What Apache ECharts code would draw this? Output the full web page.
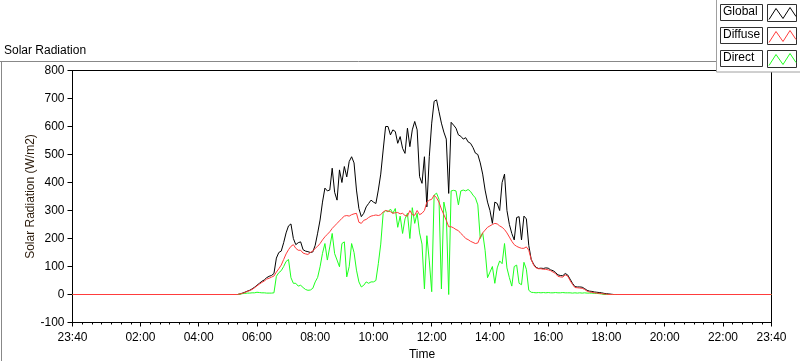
<!DOCTYPE html>
<html>
<head>
<meta charset="utf-8">
<script src="https://cdn.jsdelivr.net/npm/echarts@6/dist/echarts.min.js"></script>
<style>
  html, body { margin: 0; padding: 0; background: #fff; }
  #main { width: 800px; height: 361px; }
</style>
</head>
<body>
<div id="main"></div>
<script>
// time axis: minutes since 23:40 of the previous day, samples every 5 min from 05:20
var startMinute = 340;
var stepMinutes = 5;

var seriesNames = ['Global', 'Diffuse', 'Direct'];
var seriesColors = ['#000000', '#ff3c3c', '#1eff1e'];

var tickLabels = ['23:40', '02:00', '04:00', '06:00', '08:00', '10:00', '12:00',
    '14:00', '16:00', '18:00', '20:00', '22:00', '23:40'];
var tickMinutes = [0, 140, 260, 380, 500, 620, 740, 860, 980, 1100, 1220, 1340, 1440];

var globalVals = [
    0, 2, 5, 8, 12, 15, 20, 26, 33, 40, 47, 52, 60, 65, 68, 75,
    130, 150, 155, 185, 220, 245, 252, 200, 178, 185, 188, 160, 155, 153, 150, 152,
    176, 219, 266, 330, 380, 370, 373, 451, 365, 337, 445, 400, 457, 420, 475, 492,
    470, 373, 307, 278, 290, 313, 325, 337, 330, 325, 373, 430, 516, 600, 600, 570,
    588, 582, 540, 564, 522, 504, 594, 528, 588, 618, 588, 421, 397, 492, 313, 492,
    612, 690, 695, 653, 612, 580, 555, 361, 615, 605, 594, 570, 565, 555, 560, 545,
    540, 525, 505, 500, 470, 430, 373, 330, 300, 254, 330, 325, 300, 400, 430, 300,
    250, 218, 195, 275, 278, 195, 280, 270, 175, 125, 108, 97, 93, 94, 93, 95,
    94, 88, 85, 79, 70, 68, 67, 75, 70, 55, 40, 28, 27, 27, 26, 21,
    15, 12, 11, 9, 8, 7, 6, 4, 3, 2, 1, 0, 0
];

var diffuseVals = [
    0, 2, 4, 7, 11, 14, 18, 24, 31, 37, 43, 48, 55, 58, 62, 66,
    80, 92, 105, 125, 145, 160, 172, 178, 165, 158, 158, 148, 145, 143, 150, 155,
    165, 172, 182, 195, 206, 215, 224, 236, 245, 254, 263, 272, 280, 282, 280, 285,
    288, 290, 258, 254, 265, 268, 275, 280, 282, 284, 282, 285, 295, 300, 298, 296,
    290, 292, 293, 288, 290, 282, 280, 300, 285, 283, 300, 285, 290, 300, 330, 337,
    340, 355, 345, 330, 305, 285, 265, 242, 242, 238, 232, 228, 218, 210, 200, 196,
    190, 186, 182, 184, 205, 220, 230, 240, 245, 250, 254, 252, 245, 240, 232, 220,
    205, 190, 178, 172, 168, 165, 165, 170, 158, 125, 105, 95, 92, 92, 90, 90,
    88, 85, 80, 75, 65, 63, 62, 70, 66, 50, 36, 25, 24, 23, 22, 18,
    12, 9, 8, 6, 5, 4, 3, 2, 1, 0, 0, 0, 0
];

var directVals = [
    0, 1, 3, 4, 5, 5, 6, 6, 8, 7, 6, 6, 5, 5, 5, 6,
    65, 78, 85, 100, 118, 125, 60, 40, 40, 30, 33, 25, 18, 15, 16, 22,
    45, 61, 99, 147, 182, 123, 170, 218, 146, 123, 99, 182, 188, 63, 100, 182,
    150, 87, 45, 27, 33, 45, 40, 45, 45, 50, 110, 180, 290, 300, 295, 305,
    290, 307, 240, 280, 218, 270, 290, 200, 310, 254, 290, 220, 180, 20, 210, 120,
    10, 355, 362, 340, 20, 330, 290, 0, 370, 372, 370, 320, 370, 373, 370, 375,
    368, 355, 345, 320, 200, 220, 158, 60, 80, 100, 40, 95, 120, 110, 182, 95,
    60, 30, 100, 105, 40, 35, 115, 90, 15, 8, 7, 6, 7, 6, 7, 6,
    7, 6, 6, 7, 6, 6, 7, 6, 6, 6, 5, 6, 5, 6, 5, 6,
    5, 5, 5, 4, 4, 3, 2, 0, 0, 0, 0, 0, 0
];

function toPoints(vals) {
    var pts = [[0, 0]];
    vals.forEach(function (v, i) { pts.push([startMinute + i * stepMinutes, v]); });
    pts.push([1440, 0]);
    return pts;
}

function labelFor(v) {
    var idx = tickMinutes.indexOf(v);
    return idx >= 0 ? tickLabels[idx] : '';
}

var chartDom = document.getElementById('main');
var myChart = echarts.init(chartDom);
var font = 'Liberation Sans';

// legend boxes, drawn LabVIEW style
var legendGraphics = [{
    type: 'rect',
    shape: { x: 716.5, y: -2, width: 90, height: 74 },
    style: { fill: '#fff', stroke: '#a0a0a0', lineWidth: 1 },
    z: 10
}];
seriesNames.forEach(function (name, k) {
    var y0 = 4.5 + k * 23;
    legendGraphics.push({
        type: 'rect',
        shape: { x: 720.5, y: y0, width: 42, height: 16 },
        style: { fill: '#fff', stroke: '#303030', lineWidth: 1 },
        z: 11
    });
    legendGraphics.push({
        type: 'text',
        left: 723, top: y0 + 1.5,
        style: { text: name, fill: '#000', font: '12px ' + font },
        z: 12
    });
    legendGraphics.push({
        type: 'rect',
        shape: { x: 767.5, y: y0, width: 29, height: 17 },
        style: { fill: '#fff', stroke: '#303030', lineWidth: 1 },
        z: 11
    });
    legendGraphics.push({
        type: 'polyline',
        shape: { points: [[769, y0 + 15], [776, y0 + 4], [783, y0 + 14], [790, y0 + 3], [796, y0 + 12]] },
        style: { stroke: seriesColors[k], lineWidth: 1, fill: null },
        z: 12
    });
});

var option = {
    animation: false,
    backgroundColor: '#fff',
    textStyle: { fontFamily: font },
    title: {
        text: 'Solar Radiation',
        left: 4, top: 45, padding: 0,
        textStyle: { fontSize: 12, fontWeight: 'normal', color: '#000', fontFamily: font }
    },
    grid: {
        left: 72.5, right: 28.5, top: 70.5, bottom: 38.5,
        outerBoundsMode: 'none', containLabel: false,
        show: true, borderColor: '#000', borderWidth: 1, backgroundColor: '#fff'
    },
    xAxis: [{
        // labels and small 20 minute ticks
        type: 'value',
        min: 0, max: 1440, interval: 20,
        name: 'Time', nameLocation: 'middle', nameGap: 26,
        nameTextStyle: { fontSize: 12, color: '#000' },
        axisLine: { onZero: false, lineStyle: { color: '#000' } },
        axisTick: { length: 2, lineStyle: { color: '#000' } },
        splitLine: { show: false },
        axisLabel: {
            color: '#000', fontSize: 12, margin: 9,
            showMinLabel: true, showMaxLabel: true,
            formatter: labelFor
        }
    }, {
        // longer ticks under the labels
        type: 'value',
        min: 0, max: 1440, interval: 20,
        position: 'bottom', offset: 0,
        axisLine: { show: false, onZero: false },
        axisTick: { show: true, length: 4, customValues: tickMinutes, lineStyle: { color: '#000' } },
        axisLabel: { show: false },
        splitLine: { show: false }
    }],
    yAxis: {
        type: 'value',
        min: -100, max: 800, interval: 100,
        name: 'Solar Radiation (W/m2)', nameLocation: 'middle', nameGap: 36,
        nameMoveOverlap: false,
        nameTextStyle: { fontSize: 12, color: '#2a1a0a' },
        axisLine: { show: true, onZero: false, lineStyle: { color: '#000' } },
        axisTick: { show: true, length: 5, lineStyle: { color: '#000' } },
        splitLine: { show: false },
        axisLabel: { color: '#000', fontSize: 12, margin: 8 }
    },
    graphic: [
        { type: 'line', shape: { x1: 0, y1: 61.5, x2: 717, y2: 61.5 }, style: { stroke: '#888', lineWidth: 1 } },
        { type: 'line', shape: { x1: 1.5, y1: 61, x2: 1.5, y2: 361 }, style: { stroke: '#888', lineWidth: 1 } }
    ].concat(legendGraphics),
    series: [
        { name: 'Global', type: 'line', data: toPoints(globalVals), showSymbol: false, z: 2,
          lineStyle: { width: 1, color: seriesColors[0] }, itemStyle: { color: seriesColors[0] } },
        { name: 'Direct', type: 'line', data: toPoints(directVals), showSymbol: false, z: 3,
          lineStyle: { width: 1, color: seriesColors[2] }, itemStyle: { color: seriesColors[2] } },
        { name: 'Diffuse', type: 'line', data: toPoints(diffuseVals), showSymbol: false, z: 4,
          lineStyle: { width: 1, color: seriesColors[1] }, itemStyle: { color: seriesColors[1] } }
    ]
};

option && myChart.setOption(option);
</script>
</body>
</html>
